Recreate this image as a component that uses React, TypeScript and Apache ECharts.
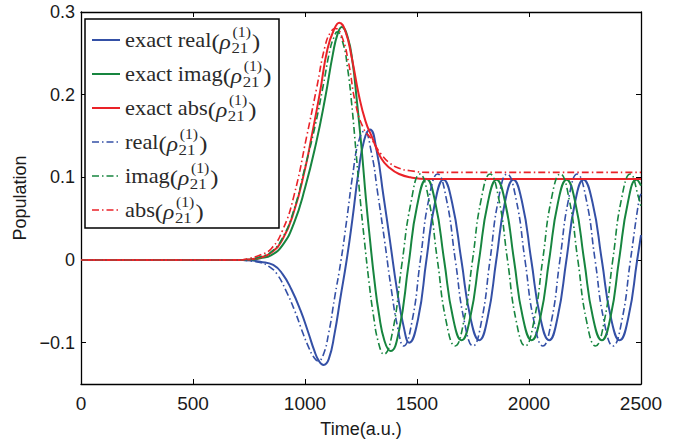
import React, { useEffect, useRef } from "react";
import * as echarts from "echarts";

type P = [number, number];

const realExact: P[] = [[0,0],[720,0],[760,-0.0005],[800,-0.002],[858,-0.006],[900,-0.017],[940,-0.036],[980,-0.061],[1015,-0.088],[1042,-0.11],[1062,-0.122],[1083,-0.127],[1106,-0.12],[1132,-0.089],[1158,-0.046],[1186,0],[1212,0.05],[1238,0.105],[1264,0.145],[1290,0.158],[1320,0.132],[1350,0.078],[1380,0.022],[1410,-0.035],[1440,-0.08],[1465,-0.1],[1505,-0.071],[1542,0],[1580,0.069],[1618,0.097],[1657,0.069],[1698,0],[1738,-0.069],[1778,-0.097],[1816,-0.069],[1854,0],[1892,0.069],[1930,0.097],[1970,0.069],[2010,0],[2050,-0.069],[2090,-0.097],[2128,-0.069],[2167,0],[2205,0.069],[2243,0.097],[2284,0.069],[2325,0],[2365,-0.069],[2405,-0.097],[2444,-0.069],[2483,0],[2500,0.03]];

const imagExact: P[] = [[0,0],[720,0],[760,0.0005],[800,0.002],[850,0.006],[900,0.018],[950,0.044],[1000,0.087],[1050,0.142],[1090,0.196],[1125,0.25],[1145,0.273],[1164,0.282],[1190,0.27],[1212,0.24],[1231,0.194],[1253,0.134],[1272,0.074],[1290,0.025],[1310,-0.025],[1330,-0.065],[1355,-0.098],[1382,-0.11],[1420,-0.085],[1462,-0.006],[1500,0.065],[1543,0.098],[1582,0.069],[1621,0],[1660,-0.069],[1699,-0.097],[1738,-0.069],[1777,0],[1816,0.069],[1855,0.097],[1894,0.069],[1933,0],[1972,-0.069],[2012,-0.097],[2051,-0.069],[2090,0],[2129,0.069],[2168,0.097],[2207,0.069],[2246,0],[2285,-0.069],[2325,-0.097],[2364,-0.069],[2402,0],[2441,0.069],[2480,0.097],[2500,0.09]];

const absExact: P[] = [[0,0],[720,0],[760,0.001],[800,0.003],[850,0.009],[900,0.025],[950,0.058],[1000,0.11],[1030,0.15],[1067,0.203],[1100,0.255],[1130,0.279],[1153,0.287],[1180,0.277],[1210,0.243],[1240,0.2],[1270,0.168],[1300,0.148],[1340,0.123],[1380,0.111],[1420,0.104],[1470,0.1],[1550,0.098],[2500,0.098]];

const realApprox: P[] = [[0,0],[710,0],[750,-0.001],[800,-0.003],[840,-0.008],[875,-0.017],[915,-0.037],[955,-0.062],[990,-0.088],[1017,-0.106],[1038,-0.117],[1058,-0.122],[1080,-0.116],[1106,-0.088],[1132,-0.046],[1161,0],[1187,0.05],[1213,0.103],[1239,0.143],[1265,0.156],[1295,0.132],[1325,0.08],[1355,0.024],[1385,-0.035],[1415,-0.083],[1440,-0.104],[1478,-0.074],[1515,0],[1553,0.074],[1592,0.104],[1631,0.074],[1671,0],[1711,-0.074],[1750,-0.104],[1788,-0.074],[1826,0],[1864,0.074],[1902,0.104],[1942,0.074],[1982,0],[2022,-0.074],[2062,-0.104],[2100,-0.074],[2138,0],[2177,0.074],[2215,0.104],[2255,0.074],[2295,0],[2335,-0.074],[2375,-0.104],[2414,-0.074],[2453,0],[2492,0.074],[2500,0.08]];

const imagApprox: P[] = [[0,0],[710,0],[750,0.001],[800,0.004],[850,0.01],[900,0.027],[950,0.06],[1000,0.112],[1045,0.162],[1082,0.212],[1112,0.255],[1130,0.27],[1143,0.276],[1170,0.262],[1190,0.232],[1208,0.19],[1228,0.13],[1247,0.072],[1265,0.024],[1285,-0.025],[1305,-0.066],[1328,-0.1],[1352,-0.114],[1390,-0.088],[1432,-0.006],[1472,0.068],[1513,0.104],[1552,0.074],[1591,0],[1630,-0.074],[1670,-0.104],[1709,-0.074],[1748,0],[1787,0.074],[1826,0.104],[1865,0.074],[1904,0],[1943,-0.074],[1983,-0.104],[2022,-0.074],[2061,0],[2100,0.074],[2140,0.104],[2179,0.074],[2218,0],[2257,-0.074],[2297,-0.104],[2336,-0.074],[2374,0],[2413,0.074],[2452,0.104],[2491,0.074],[2500,0.064]];

const absApprox: P[] = [[0,0],[710,0],[750,0.002],[800,0.006],[850,0.014],[900,0.036],[950,0.077],[1008,0.15],[1052,0.208],[1089,0.258],[1115,0.276],[1137,0.28],[1165,0.27],[1195,0.238],[1225,0.19],[1260,0.16],[1300,0.145],[1340,0.128],[1380,0.117],[1420,0.111],[1470,0.108],[1550,0.106],[2500,0.106]];

const yTicks = [-0.1, 0, 0.1, 0.2, 0.3];
const legendNames = ["exact real", "exact imag", "exact abs", "real", "imag", "abs"];

const BLUE = "#3450A6";
const GREEN = "#17853F";
const RED = "#EA2228";
const DASH = [7, 3, 1.5, 3];

const seriesDefs = [
  { data: realExact, color: BLUE, dashed: false },
  { data: imagExact, color: GREEN, dashed: false },
  { data: absExact, color: RED, dashed: false },
  { data: realApprox, color: BLUE, dashed: true },
  { data: imagApprox, color: GREEN, dashed: true },
  { data: absApprox, color: RED, dashed: true },
];

const SERIF = "Liberation Serif";
const SANS = "Liberation Sans";

function measure(text: string, size: number, family: string, style = "normal"): number {
  const c = document.createElement("canvas").getContext("2d");
  if (!c) return text.length * size * 0.5;
  c.font = `${style} ${size}px "${family}"`;
  return c.measureText(text).width;
}

function txt(text: string, x: number, y: number, size: number, italic = false) {
  return {
    type: "text",
    x,
    y,
    z: 102,
    style: {
      text,
      fontSize: size,
      fontFamily: SERIF,
      fontStyle: italic ? "italic" : "normal",
      fill: "#2a2a2a",
      align: "left",
      verticalAlign: "middle",
    },
  };
}

function buildLegend() {
  const els: any[] = [];
  els.push({
    type: "rect",
    shape: { x: 85, y: 19, width: 194, height: 209 },
    style: { fill: "#fff", stroke: "#000", lineWidth: 1.5 },
    z: 100,
  });
  const M = 20, PAR = 22, RHO = 21, SUB = 15, SUP = 14;
  seriesDefs.forEach((s, i) => {
    const y = 40 + i * 34;
    els.push({
      type: "line",
      shape: { x1: 92, y1: y, x2: 120, y2: y },
      style: { stroke: s.color, lineWidth: s.dashed ? 1.5 : 2, lineDash: s.dashed ? DASH : null },
      z: 101,
    });
    const kids: any[] = [];
    let x = 0;
    const name = legendNames[i];
    kids.push(txt(name, x, 0, M));
    x += measure(name, M, SERIF);
    kids.push(txt("(", x, 1, PAR));
    x += measure("(", PAR, SERIF);
    kids.push(txt("ρ", x, 2, RHO, true));
    x += measure("ρ", RHO, SERIF, "italic") + 0.5;
    kids.push(txt("21", x, 8, SUB));
    kids.push(txt("(1)", x + 1, -8, SUP));
    x += Math.max(measure("21", SUB, SERIF), measure("(1)", SUP, SERIF) + 1) + 1;
    kids.push(txt(")", x, 1, PAR));
    els.push({ type: "group", x: 125, y, scaleX: 1.12, z: 102, children: kids });
  });
  return els;
}

export default function App() {
  const ref = useRef<HTMLDivElement>(null);
  useEffect(() => {
    if (!ref.current) return;
    const chart = echarts.init(ref.current, null, { renderer: "svg" });
    const axisLine = { onZero: false, lineStyle: { color: "#000", width: 1.3 } };
    const axisTick = { inside: true, length: 5, lineStyle: { color: "#000", width: 1 } };
    const labelStyle = { color: "#1a1a1a", fontSize: 18, fontFamily: SANS };
    const option: any = {
      animation: false,
      backgroundColor: "#fff",
      grid: { left: 81, right: 45, top: 12, bottom: 63 },
      xAxis: [
        {
          type: "value", min: 0, max: 2500, interval: 500, position: "bottom",
          axisLine, axisTick,
          axisLabel: { ...labelStyle, fontSize: 19, margin: 10, formatter: (v: number) => String(v) },
          splitLine: { show: false },
          name: "Time(a.u.)", nameLocation: "middle", nameGap: 36,
          nameTextStyle: { ...labelStyle },
        },
        {
          type: "value", min: 0, max: 2500, interval: 500, position: "top",
          axisLine, axisTick, axisLabel: { show: false }, splitLine: { show: false },
        },
      ],
      yAxis: [
        {
          type: "value", min: -0.15, max: 0.3, position: "left",
          axisLine, axisTick: { ...axisTick, customValues: yTicks },
          axisLabel: {
            ...labelStyle, margin: 6, customValues: yTicks,
            formatter: (v: number) => (v < 0 ? "\u2212" + String(Math.abs(Math.round(v * 10) / 10)) : String(Math.round(v * 10) / 10)),
          },
          splitLine: { show: false },
          name: "Population", nameLocation: "middle", nameGap: 46,
          nameTextStyle: { ...labelStyle },
        },
        {
          type: "value", min: -0.15, max: 0.3, position: "right",
          axisLine, axisTick: { ...axisTick, customValues: yTicks },
          axisLabel: { show: false, customValues: yTicks }, splitLine: { show: false },
        },
      ],
      series: seriesDefs.map((s) => ({
        type: "line",
        data: s.data,
        xAxisIndex: 0,
        yAxisIndex: 0,
        smooth: true,
        symbol: "none",
        showSymbol: false,
        lineStyle: { color: s.color, width: s.dashed ? 1.6 : 2, type: s.dashed ? DASH : "solid" },
        itemStyle: { color: s.color },
        emphasis: { disabled: true },
      })),
      graphic: buildLegend(),
    };
    chart.setOption(option);
    return () => chart.dispose();
  }, []);
  return <div ref={ref} style={{ position: "fixed", left: 0, top: 0, width: 686, height: 447, background: "#fff" }} />;
}
